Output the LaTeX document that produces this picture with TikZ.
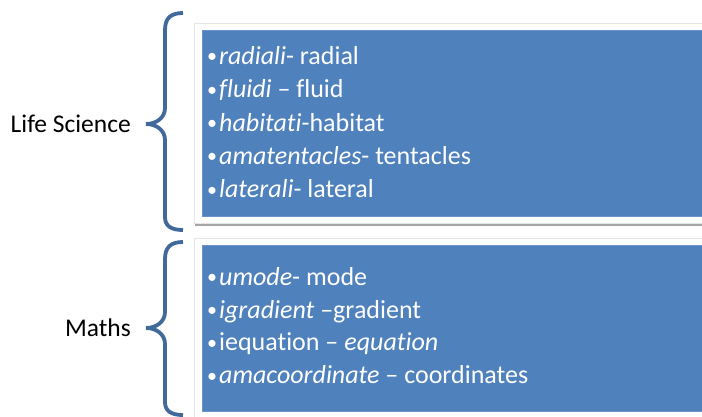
\documentclass[tikz,border=0pt]{standalone}
\usepackage{fontspec}
\setmainfont{Carlito}[Ligatures=NoCommon]
\usetikzlibrary{shadows}
\definecolor{boxblue}{HTML}{4F81BD}
\definecolor{boxedge}{HTML}{6A94C9}
\definecolor{bracecol}{HTML}{41699A}
\newcommand{\bul}{\raisebox{1.2pt}{\fontsize{20}{20}\selectfont•}\hspace{2pt}}
\begin{document}
\begin{tikzpicture}[x=1pt,y=-1pt,
  frame/.style={fill=white,draw=gray!20,line width=0.6pt,
    drop shadow={shadow xshift=0.5pt,shadow yshift=-2.5pt,fill=black,opacity=0.35}},
  bluebox/.style={fill=boxblue,draw=boxedge,line width=0.8pt},
  brace/.style={draw=bracecol,line width=3.8pt,line cap=butt},
  item/.style={anchor=base west,inner sep=0pt,text=white,font=\fontsize{26}{30}\selectfont},
  lab/.style={anchor=base east,inner sep=0pt,text=black,font=\fontsize{25.5}{30}\selectfont}]
\useasboundingbox (0,0) rectangle (702,416);
% frames
\path[frame] (194.5,23) rectangle (720,223);
\path[frame] (194.5,238) rectangle (720,432);
\path[bluebox] (202,30.5) rectangle (730,216);
\path[bluebox] (202,245) rectangle (730,411);
% braces
\draw[brace] (183,13) .. controls (171,13) and (165,18) .. (165,30) -- (165,108)
  .. controls (165,118) and (156,124) .. (146,124)
  .. controls (156,124) and (165,130) .. (165,140) -- (165,217)
  .. controls (165,226) and (171,230) .. (183,230);
\draw[brace] (183,242) .. controls (171,242) and (165,247) .. (165,259) -- (165,312)
  .. controls (165,322) and (156,328) .. (146,328)
  .. controls (156,328) and (165,334) .. (165,344) -- (165,402)
  .. controls (165,411) and (171,415) .. (183,415);
% labels
\node[lab] (ls) at (131,132) {Life Science};
\node[lab] (ma) at (131,336) {Maths};
% items top
\node[item] (t1) at (207,64) {\bul\textit{radiali}- radial};
\node[item] (t2) at (207,97.5) {\bul\textit{fluidi} – fluid};
\node[item] (t3) at (207,131) {\bul\textit{habitati}-habitat};
\node[item] (t4) at (207,164) {\bul\textit{amatentacles}- tentacles};
\node[item] (t5) at (207,197.5) {\bul\textit{laterali}- lateral};
% items bottom
\node[item] (b1) at (207,285) {\bul\textit{umode}- mode};
\node[item] (b2) at (207,318) {\bul\textit{igradient} –gradient};
\node[item] (b3) at (207,350.5) {\bul iequation – \textit{equation}};
\node[item] (b4) at (207,383.5) {\bul\textit{amacoordinate} – coordinates};
\end{tikzpicture}
\end{document}
